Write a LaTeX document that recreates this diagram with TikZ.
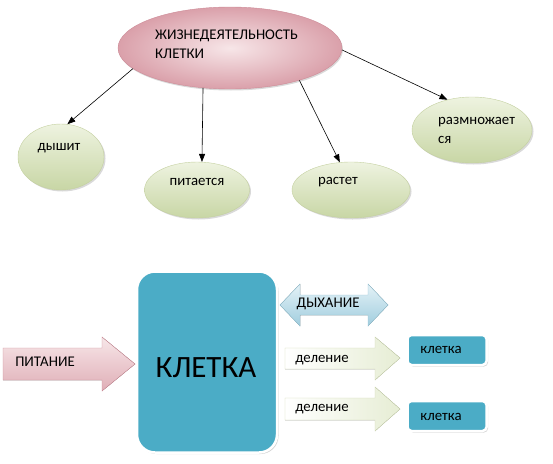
\documentclass[tikz,border=0pt]{standalone}
\usepackage{fontspec}
\setmainfont{Carlito}
\usetikzlibrary{arrows.meta, shapes.geometric, shadows}
\definecolor{pinkdark}{RGB}{218,160,170}
\definecolor{pinklight}{RGB}{247,230,232}
\definecolor{pinkedge}{RGB}{205,140,152}
\definecolor{greendark}{RGB}{200,214,165}
\definecolor{greenlight}{RGB}{238,243,224}
\definecolor{greenedge}{RGB}{196,208,160}
\definecolor{cellblue}{RGB}{75,172,198}
\definecolor{skydark}{RGB}{160,205,222}
\definecolor{skylight}{RGB}{228,242,247}
\definecolor{skyedge}{RGB}{150,195,212}

\begin{document}
\begin{tikzpicture}[x=1pt, y=-1pt,
  topic/.style={ellipse, draw=pinkedge, inner color=pinklight,
    outer color=pinkdark, minimum width=224pt, minimum height=82pt,
    inner sep=0pt, drop shadow={shadow xshift=1pt, shadow yshift=-1.5pt,
    opacity=0.3}},
  act/.style={ellipse, draw=greenedge, top color=greenlight,
    bottom color=greendark, inner sep=0pt, drop shadow={shadow xshift=1.5pt,
    shadow yshift=-1.5pt, opacity=0.3}},
  txt/.style={font=\fontsize{14.8}{19}\selectfont, inner sep=0pt, align=left},
  cell/.style={draw=white, line width=2.5pt, fill=cellblue, rounded corners=18pt,
    drop shadow={shadow xshift=1.5pt, shadow yshift=-1.5pt, opacity=0.35}},
  child/.style={draw=white, line width=2.5pt, fill=cellblue, rounded corners=4pt,
    minimum width=79pt, minimum height=30pt, drop shadow={shadow xshift=1.5pt,
    shadow yshift=-1.5pt, opacity=0.35}},
  arw/.style={-{Triangle[length=8pt,width=6pt]}, line width=0.6pt},
  feed/.style={draw=pinkedge, top color=pinklight, bottom color=pinkdark!85},
  air/.style={draw=skyedge, top color=skylight, bottom color=skydark},
  split/.style={draw=greenedge!80, left color=white, right color=greenlight!80!greendark},
]
\useasboundingbox (0,0) rectangle (553,463);

% ---- top: what the cell does ----
\node[topic] (life) at (230,48) {};
\node[txt, anchor=west] (life-t) at (155,44) {ЖИЗНЕДЕЯТЕЛЬНОСТЬ\\КЛЕТКИ};

\node[act, minimum width=86pt, minimum height=66pt] (breath) at (61,157) {};
\node[act, minimum width=105pt, minimum height=56pt] (eat) at (197,190) {};
\node[act, minimum width=118pt, minimum height=56pt] (grow) at (351,190) {};
\node[act, minimum width=120pt, minimum height=66pt] (breed) at (472,130) {};

\node[txt] (breath-t) at (59,148) {дышит};
\node[txt] (eat-t) at (197,182) {питается};
\node[txt] (grow-t) at (338,182) {растет};
\node[txt, anchor=west] (breed-t) at (438,130) {размножает\\ся};

\draw[arw] (life.192) -- (breath.79);
\draw[arw] (life.236) -- (eat.80);
\draw[arw] (life.335) -- (grow.112);
\draw[arw] (life.359) -- (breed.129);

% ---- bottom: the cell ----
\node[cell, minimum width=140pt, minimum height=181pt] (cell) at (207,362) {};
\node[font=\fontsize{31}{36}\selectfont, inner sep=0pt] (cell-t) at (206,368) {КЛЕТКА};

% food in
\filldraw[feed] (3,348) -- (102,348) -- (102,337) -- (135,364)
  -- (102,391) -- (102,380) -- (3,380) -- cycle;
\node[txt] (feed-t) at (45,362) {ПИТАНИЕ};

% breathing, both ways
\filldraw[air] (280,305) -- (300,284) -- (300,295) -- (368,295) -- (368,284)
  -- (388,305) -- (368,326) -- (368,315) -- (300,315) -- (300,326) -- cycle;
\node[txt] (air-t) at (328,304) {ДЫХАНИЕ};

% division
\filldraw[split] (285,348) -- (375,348) -- (375,337) -- (400,358)
  -- (375,380) -- (375,369) -- (285,369) -- cycle;
\filldraw[split] (285,398) -- (375,398) -- (375,387) -- (400,409)
  -- (375,431) -- (375,420) -- (285,420) -- cycle;
\node[txt] (split1-t) at (322,360) {деление};
\node[txt] (split2-t) at (322,409) {деление};

\node[child] (child1) at (447,350) {};
\node[child] (child2) at (447,416) {};
\node[txt] (child1-t) at (441,350) {клетка};
\node[txt] (child2-t) at (441,417) {клетка};

\end{tikzpicture}
\end{document}
